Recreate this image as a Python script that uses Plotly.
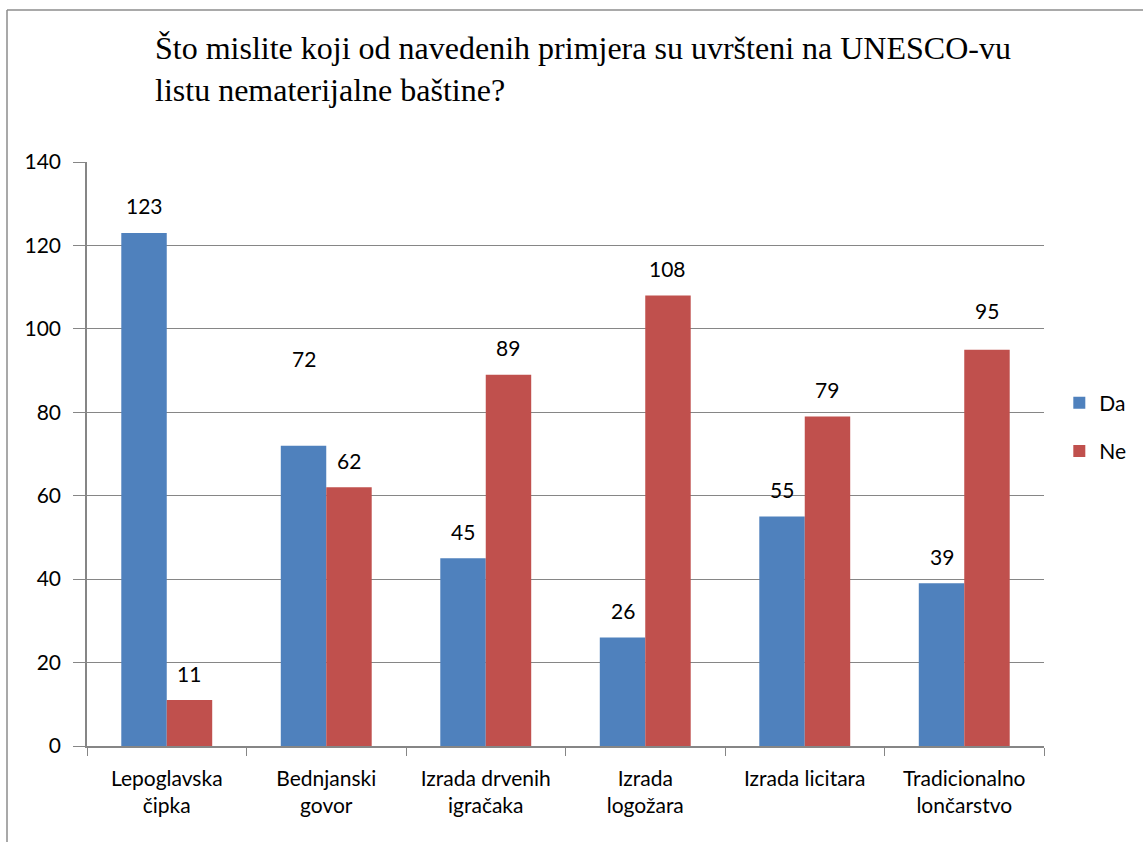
import plotly.graph_objects as go

categories = [
    "Lepoglavska<br>čipka",
    "Bednjanski<br>govor",
    "Izrada drvenih<br>igračaka",
    "Izrada<br>logožara",
    "Izrada licitara",
    "Tradicionalno<br>lončarstvo",
]
da_values = [123, 72, 45, 26, 55, 39]
ne_values = [11, 62, 89, 108, 79, 95]
y_ticks = [0, 20, 40, 60, 80, 100, 120, 140]

TITLE = "Što mislite koji od navedenih primjera su uvršteni na UNESCO-vu<br>listu nematerijalne baštine?"
DA_COLOR = "#4F81BD"
NE_COLOR = "#C0504D"
GRID = "#868686"
LABEL_FONT = "Lato, Open Sans, sans-serif"
FS = 21

W, H = 1143, 842
L, R, T, B = 87, 99, 162, 96
plot_w = W - L - R
plot_h = H - T - B

fig = go.Figure()
fig.add_trace(go.Bar(x=categories, y=da_values, name="Da", marker=dict(color=DA_COLOR, line=dict(width=0)),
                     legendgroup="da"))
fig.add_trace(go.Bar(x=categories, y=ne_values, name="Ne", marker=dict(color=NE_COLOR, line=dict(width=0)),
                     legendgroup="ne"))

# data labels above bars (Excel had a couple of them nudged by hand)
bar_px = plot_w / len(categories) * (1 - 0.43) / 2
nudge_da = {1: 60}
nudge_ne = {5: 12}
for i, cat in enumerate(categories):
    for vals, sign, nudge in ((da_values, -1, nudge_da), (ne_values, 1, nudge_ne)):
        fig.add_annotation(
            x=cat, y=vals[i], xref="x", yref="y",
            text=str(vals[i]), showarrow=False,
            xshift=sign * bar_px / 2, yshift=27 + nudge.get(i, 0),
            yanchor="middle",
            font=dict(family=LABEL_FONT, size=FS, color="black"),
        )

# title as a left-aligned annotation
fig.add_annotation(
    text=TITLE, xref="paper", yref="paper", x=(153 - L) / plot_w, y=(H - B - 28) / plot_h,
    xanchor="left", yanchor="top", align="left", showarrow=False,
    font=dict(family="Liberation Serif, Times New Roman, serif", size=32, color="black"),
)

# chart frame (top and left edges visible in the reference)
fx0 = (7 - L) / plot_w
fy1 = (H - B - 10) / plot_h
fig.add_shape(type="line", xref="paper", yref="paper", x0=fx0, x1=(W - L) / plot_w + 0.01, y0=fy1, y1=fy1,
              line=dict(color="#8c8c8c", width=1.5))
fig.add_shape(type="line", xref="paper", yref="paper", x0=fx0, x1=fx0, y0=fy1, y1=-B / plot_h - 0.01,
              line=dict(color="#8c8c8c", width=1.5))

fig.update_layout(
    width=W, height=H,
    margin=dict(l=L, r=R, t=T, b=B, autoexpand=False),
    paper_bgcolor="white", plot_bgcolor="white",
    barmode="group", bargap=0.43, bargroupgap=0,
    legend=dict(x=1.016, y=0.546, xanchor="left", yanchor="middle", traceorder="grouped",
                tracegroupgap=18, font=dict(family=LABEL_FONT, size=FS, color="black"),
                itemwidth=30),
    showlegend=True,
    font=dict(family=LABEL_FONT, color="black"),
)
fig.update_xaxes(
    type="category", tickson="boundaries", ticks="outside", ticklen=8, tickcolor=GRID,
    showline=True, linecolor=GRID, linewidth=1.5, showgrid=False, ticklabelstandoff=13,
    tickfont=dict(family=LABEL_FONT, size=FS, color="black"),
)
fig.update_yaxes(
    range=[0, 140], tickvals=y_ticks, ticks="outside", ticklen=12, tickcolor=GRID,
    showline=True, linecolor=GRID, linewidth=1.5, ticklabelstandoff=8,
    showgrid=True, gridcolor=GRID, gridwidth=1.2, zeroline=False,
    tickfont=dict(family=LABEL_FONT, size=FS, color="black"),
)

fig.write_html("out.html", config={"displayModeBar": False},
               post_script="document.body.style.margin='0';")
